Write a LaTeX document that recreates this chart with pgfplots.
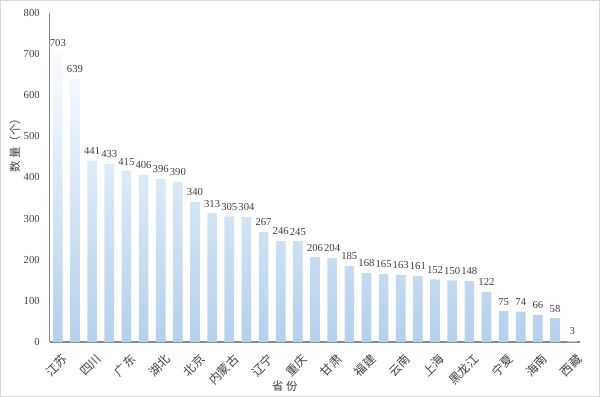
\documentclass[border=0pt]{standalone}
\usepackage{pgfplots}
\pgfplotsset{compat=1.18}
\usepackage{fontspec}
\setmainfont{Liberation Serif}
\newfontfamily\cjk{Noto Sans CJK SC}
\definecolor{axgray}{RGB}{137,137,137}
\definecolor{txt}{RGB}{64,64,64}
\definecolor{bartop}{RGB}{250,252,255}
\definecolor{barbot}{RGB}{180,208,236}
\definecolor{frame}{RGB}{217,217,217}
\begin{document}
\begin{tikzpicture}
\draw[frame, line width=0.6pt] (0.5pt,0.5pt) rectangle (449.5pt,297.25pt);
\begin{axis}[
  at={(37.5pt,41.25pt)}, anchor=south west,
  scale only axis,
  width=397.5pt, height=246.75pt,
  xmin=-0.47, xmax=30.47,
  ymin=0, ymax=800,
  ytick={0,100,...,800},
  xtick={0,2,...,30},
  xticklabels={江苏,四川,广东,湖北,北京,内蒙古,辽宁,重庆,甘肃,福建,云南,上海,黑龙江,宁夏,海南,西藏},
  xticklabel style={font=\cjk\fontsize{9}{10}\selectfont, rotate=45, anchor=north east, inner sep=0pt, text=txt, xshift=-4pt, yshift=-7.5pt},
  yticklabel style={font=\fontsize{8}{9}\selectfont, text=txt, xshift=-4pt},
  /pgf/number format/assume math mode=true,
  major tick length=0pt,
  separate axis lines,
  axis x line*=bottom, axis y line*=left,
  axis line style={axgray, line width=1pt, -},
  ylabel={\cjk 数 量（个）},
  ylabel style={font=\fontsize{8.5}{9}\selectfont, text=txt, at={(axis description cs:-0.066,0.605)}, anchor=center, rotate=0},
  xlabel={\cjk 省 份},
  xlabel style={font=\fontsize{8.5}{9}\selectfont, text=txt, at={(axis description cs:0.443,-0.133)}, anchor=center},
  nodes near coords,
  every node near coord/.append style={font=\fontsize{8}{9}\selectfont, text=txt, anchor=south, yshift=1pt},
  clip=false,
]
\addplot[ybar, bar width=7.2pt, draw=none, top color=bartop, bottom color=barbot] coordinates {
(0,703) (1,639) (2,441) (3,433) (4,415) (5,406) (6,396) (7,390) (8,340) (9,313)
(10,305) (11,304) (12,267) (13,246) (14,245) (15,206) (16,204) (17,185) (18,168) (19,165)
(20,163) (21,161) (22,152) (23,150) (24,148) (25,122) (26,75) (27,74) (28,66) (29,58) (30,3)
};
\end{axis}
\end{tikzpicture}
\end{document}
